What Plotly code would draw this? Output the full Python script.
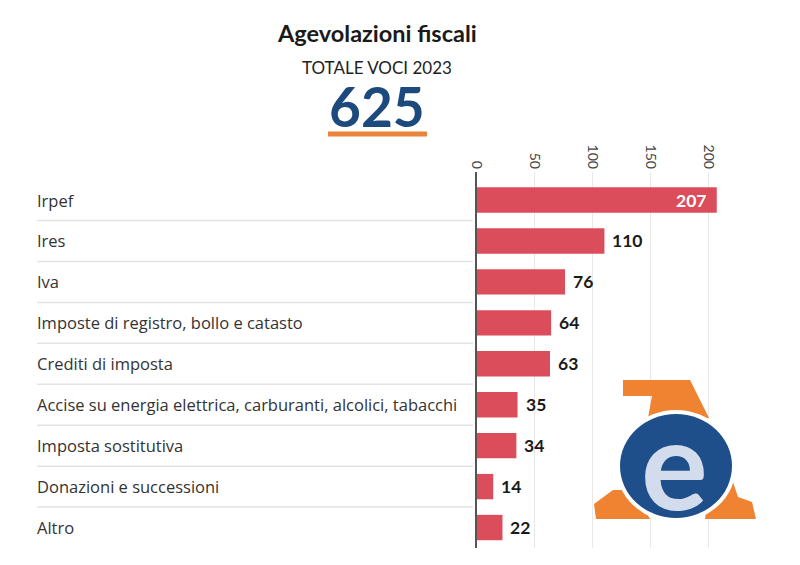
import plotly.graph_objects as go

categories = ["Irpef", "Ires", "Iva", "Imposte di registro, bollo e catasto",
              "Crediti di imposta",
              "Accise su energia elettrica, carburanti, alcolici, tabacchi",
              "Imposta sostitutiva", "Donazioni e successioni", "Altro"]
values = [207, 110, 76, 64, 63, 35, 34, 14, 22]
tick_vals = [0, 50, 100, 150, 200]

title = "Agevolazioni fiscali"
subtitle = "TOTALE VOCI 2023"
total = "625"

W, H = 800, 565
OFF = 8  # page offset of the figure in the screenshot
PL, PR, PT, PB = 477, 755, 172, 548
L = PL - OFF
R = W - (PR - OFF)
T = PT - OFF
B = H - (PB - OFF)
PW = PR - PL
PH = PB - PT
x_range = [0, 240]
BAR = "#dc4d5b"

ypos = list(range(len(categories)))

fig = go.Figure()
fig.add_trace(go.Bar(
    x=values, y=ypos, orientation="h",
    marker=dict(color=BAR, line=dict(width=0)),
    width=0.62, hoverinfo="skip",
))

def px_x(px):
    return (px - PL) / PW

def px_y(py):
    return 1 - (py - PT) / PH

ann = []
for i, c in enumerate(categories):
    ann.append(dict(x=px_x(35), xref="paper", y=i, yref="y",
                    text=c, showarrow=False, xanchor="left", yanchor="middle",
                    font=dict(family="Open Sans", size=16.5, color="#333333")))
for i, v in enumerate(values):
    if i == 0:
        ann.append(dict(x=v, y=i, xref="x", yref="y", text=str(v), showarrow=False,
                        xanchor="right", xshift=-9, yanchor="middle",
                        font=dict(family="Lato", size=17.5, color="white", weight="bold")))
    else:
        ann.append(dict(x=v, y=i, xref="x", yref="y", text=str(v), showarrow=False,
                        xanchor="left", xshift=6, yanchor="middle",
                        font=dict(family="Lato", size=17.5, color="#1a1a1a", weight="bold")))
ann.append(dict(x=px_x(377), y=px_y(33), xref="paper", yref="paper", text=title,
                showarrow=False, xanchor="center", yanchor="middle",
                font=dict(family="Lato", size=23.5, color="#1a1a1a", weight="bold")))
ann.append(dict(x=px_x(377), y=px_y(68), xref="paper", yref="paper", text=subtitle,
                showarrow=False, xanchor="center", yanchor="middle",
                font=dict(family="Lato", size=17, color="#222222")))
ann.append(dict(x=px_x(377), y=px_y(106), xref="paper", yref="paper", text=total,
                showarrow=False, xanchor="center", yanchor="middle",
                font=dict(family="Lato", size=55, color="#1d4a7c", weight="bold")))

shapes = []
for i in range(len(categories) - 1):
    shapes.append(dict(type="line", xref="paper", yref="y",
                       x0=px_x(37), x1=px_x(473), y0=i + 0.5, y1=i + 0.5,
                       line=dict(color="#e3e3e3", width=1.5)))
shapes.append(dict(type="line", xref="paper", yref="paper",
                   x0=px_x(328), x1=px_x(427), y0=px_y(134), y1=px_y(134),
                   line=dict(color="#e9843c", width=5)))

# logo (approximate Agenzia delle Entrate emblem)
def path(points):
    return "M " + " L ".join(f"{px_x(x)},{px_y(y)}" for x, y in points) + " Z"

ORANGE = "#ef8332"
for pts in [
    [(623, 380), (690, 380), (709, 418), (648, 418), (652, 396), (623, 396)],
    [(613, 490), (634, 490), (650, 519), (596, 519), (594, 504)],
    [(710, 482), (733, 482), (738, 497), (752, 502), (756, 519), (705, 519)],
]:
    shapes.append(dict(type="path", xref="paper", yref="paper", layer="above",
                       path=path(pts), fillcolor=ORANGE, line=dict(width=0)))
cx, cy, rx, ry = 676, 466, 56, 52
shapes.append(dict(type="circle", xref="paper", yref="paper", layer="above",
                   x0=px_x(cx - rx - 4), x1=px_x(cx + rx + 4),
                   y0=px_y(cy + ry + 4), y1=px_y(cy - ry - 4),
                   fillcolor="white", line=dict(width=0)))
shapes.append(dict(type="circle", xref="paper", yref="paper", layer="above",
                   x0=px_x(cx - rx), x1=px_x(cx + rx),
                   y0=px_y(cy + ry), y1=px_y(cy - ry),
                   fillcolor="#1f4f8a", line=dict(width=0)))
ann.append(dict(x=px_x(cx - 2), y=px_y(cy - 4), xref="paper", yref="paper",
                text="e", showarrow=False, xanchor="center", yanchor="middle",
                font=dict(family="Lato", size=125, color="#d3dcec", weight="bold")))

fig.update_layout(
    width=W, height=H,
    margin=dict(l=L, r=R, t=T, b=B, pad=0),
    paper_bgcolor="white", plot_bgcolor="white",
    showlegend=False,
    annotations=ann, shapes=shapes,
    xaxis=dict(range=x_range, side="top", tickvals=tick_vals, tickangle=90,
               showgrid=True, gridcolor="#e8e8e8", gridwidth=1,
               zeroline=False, showline=False, ticks="",
               tickfont=dict(family="Lato", size=14, color="#444444"),
               fixedrange=True),
    yaxis=dict(range=[8.5, -0.685], showticklabels=False, showgrid=False,
               zeroline=False, showline=True, linecolor="#555555", linewidth=1.5,
               ticks="", fixedrange=True),
)

fig.write_html("out.html")
